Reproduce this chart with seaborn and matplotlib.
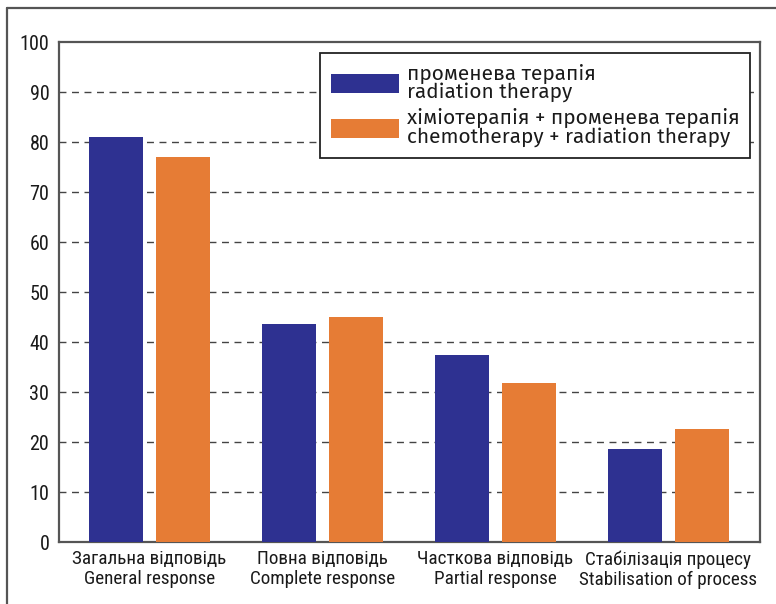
import matplotlib
matplotlib.use("Agg")
import matplotlib.pyplot as plt
from matplotlib.lines import Line2D
import seaborn as sns
import pandas as pd

categories = [
    "Загальна відповідь\nGeneral response",
    "Повна відповідь\nComplete response",
    "Часткова відповідь\nPartial response",
    "Стабілізація процесу\nStabilisation of process",
]
series_names = [
    "променева терапія\nradiation therapy",
    "хіміотерапія + променева терапія\nchemotherapy + radiation therapy",
]
radiation = [81.0, 43.6, 37.4, 18.6]
chemo_radiation = [77.0, 45.0, 31.8, 22.6]
y_ticks = [0, 10, 20, 30, 40, 50, 60, 70, 80, 90, 100]
colors = ["#2E3191", "#E67C35"]

df = pd.DataFrame({
    "category": categories * 2,
    "group": [series_names[0]] * 4 + [series_names[1]] * 4,
    "value": radiation + chemo_radiation,
})

sns.set_theme(style="white")
narrow = ["Roboto Condensed", "DejaVu Sans"]
plt.rcParams["font.family"] = narrow

W, H = 776, 604
fig = plt.figure(figsize=(W / 100, H / 100), dpi=100)
ax = fig.add_axes([59 / W, 1 - 542 / H, 701 / W, 500 / H])

sns.barplot(data=df, x="category", y="value", hue="group", palette=colors,
            width=0.776, gap=0.196, saturation=1, linewidth=0,
            ax=ax, zorder=3)

ax.set_xlim(-0.523, 3.53)
ax.set_ylim(0, 100)
ax.set_yticks(y_ticks)
ax.set_yticklabels([str(t) for t in y_ticks], fontsize=14.5, color="#1a1a1a")
ax.tick_params(axis="both", length=0)
ax.tick_params(axis="y", pad=7)
ax.tick_params(axis="x", pad=6)
for lbl in ax.get_xticklabels():
    lbl.set_fontsize(13.8)
    lbl.set_color("#1a1a1a")
    lbl.set_linespacing(1.15)
ax.set_xlabel("")
ax.set_ylabel("")

for y in y_ticks[1:-1]:
    ax.axhline(y, color="#444444", lw=1.0, ls=(0, (5, 4)), zorder=1)

for side in ["left", "bottom", "top", "right"]:
    ax.spines[side].set_visible(True)
    ax.spines[side].set_color("#555555")
    ax.spines[side].set_linewidth(1.6)

handles, labels = ax.get_legend_handles_labels()
ax.legend_.remove()
leg = fig.legend(handles, labels, loc="upper right",
                 bbox_to_anchor=(750 / W, 1 - 53 / H),
                 prop={"family": ["Fira Sans", "DejaVu Sans"], "size": 15},
                 frameon=True, fancybox=False, framealpha=1,
                 edgecolor="#222222", handlelength=3.27, handleheight=1.06,
                 handletextpad=0.38, labelspacing=0.3, borderpad=0.5,
                 borderaxespad=0)
leg.get_frame().set_linewidth(1.3)
for t in leg.get_texts():
    t.set_linespacing(0.92)
    t.set_color("#1a1a1a")

# outer frame, top and left edges
fig.add_artist(Line2D([7 / W, 1], [1 - 8 / H, 1 - 8 / H], color="#555555", lw=1.6))
fig.add_artist(Line2D([7 / W, 7 / W], [0, 1 - 8 / H], color="#555555", lw=1.6))

fig.savefig("out.png", dpi=100)
